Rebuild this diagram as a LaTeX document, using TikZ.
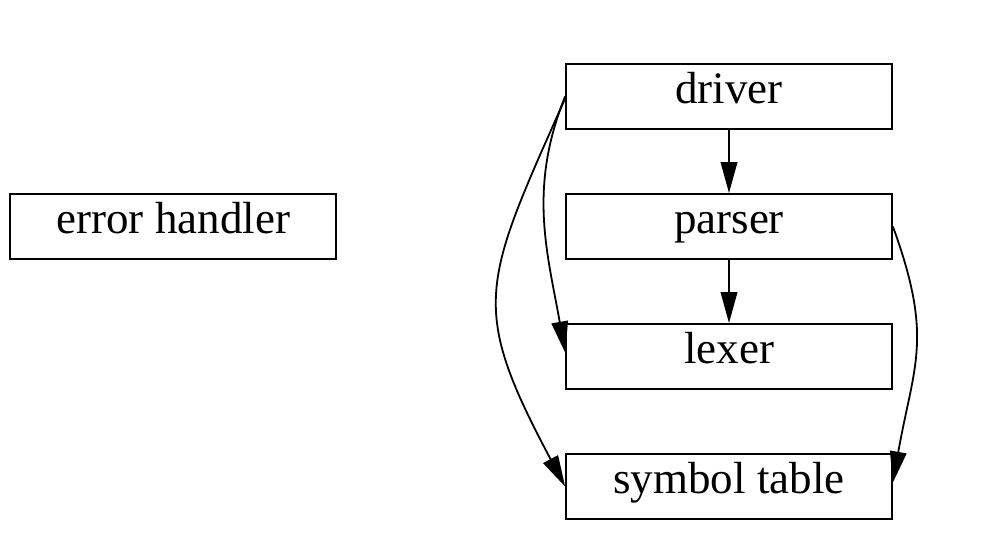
\documentclass[tikz,border=0pt]{standalone}
\usepackage{fontspec}
\setmainfont{Liberation Serif}
\usetikzlibrary{positioning,arrows.meta}

\tikzset{
  module/.style={draw, line width=0.9pt, minimum width=163pt, minimum height=32.5pt,
    inner sep=0pt, text height=14.75pt, text depth=7.75pt,
    font=\fontsize{22.5}{26}\selectfont},
  uses/.style={-{Triangle[length=15.5pt,width=8.3pt]}, line width=0.9pt}
}

\begin{document}
\begin{tikzpicture}[node distance=31.6pt]
  \useasboundingbox (0,0) rectangle (493pt,280pt);
  \node[module] (driver) at (364.5pt,231.75pt) {driver};
  \node[module, below=of driver] (parser) {parser};
  \node[module, below=of parser] (lexer) {lexer};
  \node[module, below=of lexer] (symtab) {symbol table};
  \node[module, left=114pt of parser] (errh) {error handler};
  % calls
  \draw[uses] (driver) -- (parser);
  \draw[uses] (parser) -- (lexer);
  \draw[uses] (driver.west) to[out=248, in=100] ([yshift=2pt]lexer.west);
  \draw[uses] ([yshift=-1pt]driver.west) to[out=246, in=118, looseness=1.35] (symtab.west);
  \draw[uses] (parser.east) to[out=-70, in=80, looseness=1.2] ([yshift=2pt]symtab.east);
\end{tikzpicture}
\end{document}
